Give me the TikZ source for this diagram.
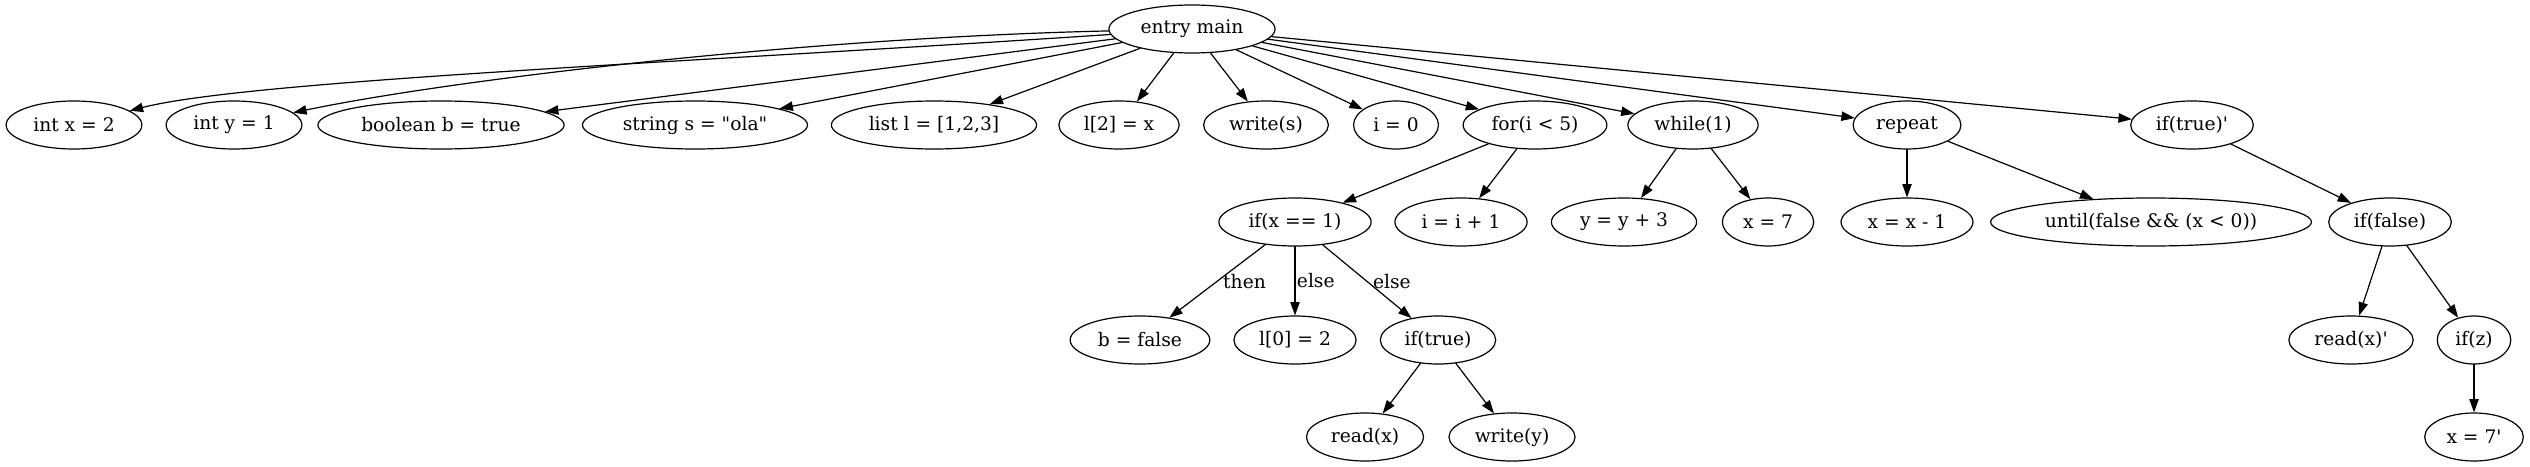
\documentclass[tikz,border=0pt]{standalone}
\usepackage{fontspec}
\setmainfont{DejaVu Serif}
\usetikzlibrary{shapes.geometric,arrows.meta}
\begin{document}
\begin{tikzpicture}[x=0.75pt, y=-0.75pt, font=\fontsize{14}{17}\selectfont, line width=0.9pt, line join=round, line cap=round, >={Triangle[length=10pt,width=7pt]},
	nd/.style={draw, ellipse, minimum height=36pt, minimum width=54pt, inner xsep=5.5pt},
	lbl/.style={right, inner sep=4pt}]
	\useasboundingbox (0,0) rectangle (2530,467);
	% level 0
	\node[nd] (main) at (1192,29) {entry main};
	% level 1
	\node[nd] (intx) at (74,125) {int x = 2};
	\node[nd] (inty) at (234,125) {int y = 1};
	\node[nd] (bool) at (441,125) {boolean b = true};
	\node[nd] (str) at (695,125) {string s = \textquotedbl ola\textquotedbl};
	\node[nd] (list) at (934,125) {list l = [1,2,3]};
	\node[nd] (ltwo) at (1119,125) {l[2] = x};
	\node[nd] (writes) at (1266,125) {write(s)};
	\node[nd] (izero) at (1396,125) {i = 0};
	\node[nd] (loopfor) at (1535,125) {for(i < 5)};
	\node[nd] (loopwhile) at (1693,125) {while(1)};
	\node[nd] (looprep) at (1907,125) {repeat};
	\node[nd] (iftp) at (2192,125) {if(true)\textquotesingle};
	% level 2
	\node[nd] (ifx) at (1295,222) {if(x == 1)};
	\node[nd] (iinc) at (1461,222) {i = i + 1};
	\node[nd] (yinc) at (1624,222) {y = y + 3};
	\node[nd] (xseven) at (1768,222) {x = 7};
	\node[nd] (xdec) at (1907,222) {x = x - 1};
	\node[nd] (until) at (2151,222) {until(false \&\& (x < 0))};
	\node[nd] (iffalse) at (2390,222) {if(false)};
	% level 3
	\node[nd] (bfalse) at (1140,340) {b = false};
	\node[nd] (lzero) at (1295,340) {l[0] = 2};
	\node[nd] (iftrue) at (1438,340) {if(true)};
	\node[nd] (readxp) at (2351,340) {read(x)\textquotesingle};
	\node[nd] (ifz) at (2474,340) {if(z)};
	% level 4
	\node[nd] (readx) at (1365,437) {read(x)};
	\node[nd] (writey) at (1512,437) {write(y)};
	\node[nd] (xsevenp) at (2474,437) {x = 7\textquotesingle};
	% edges
	\draw[->] (main) .. controls (700,62) and (250,80) .. (intx);
	\draw[->] (main) .. controls (800,38) and (450,80) .. (inty);
	\foreach \a/\b in {main/bool, main/str, main/list, main/ltwo, main/writes, main/izero,
		main/loopfor, main/loopwhile, main/looprep, main/iftp,
		loopfor/ifx, loopfor/iinc, loopwhile/yinc, loopwhile/xseven, looprep/xdec, looprep/until,
		iftp/iffalse, iftrue/readx, iftrue/writey, iffalse/readxp, iffalse/ifz, ifz/xsevenp}
		\draw[->] (\a)--(\b);
	\draw[->] (ifx)--(bfalse) node[lbl, midway]{then};
	\draw[->] (ifx)--(lzero) node[lbl, midway, inner sep=1pt]{else};
	\draw[->] (ifx)--(iftrue) node[lbl, midway]{else};
\end{tikzpicture}
\end{document}
